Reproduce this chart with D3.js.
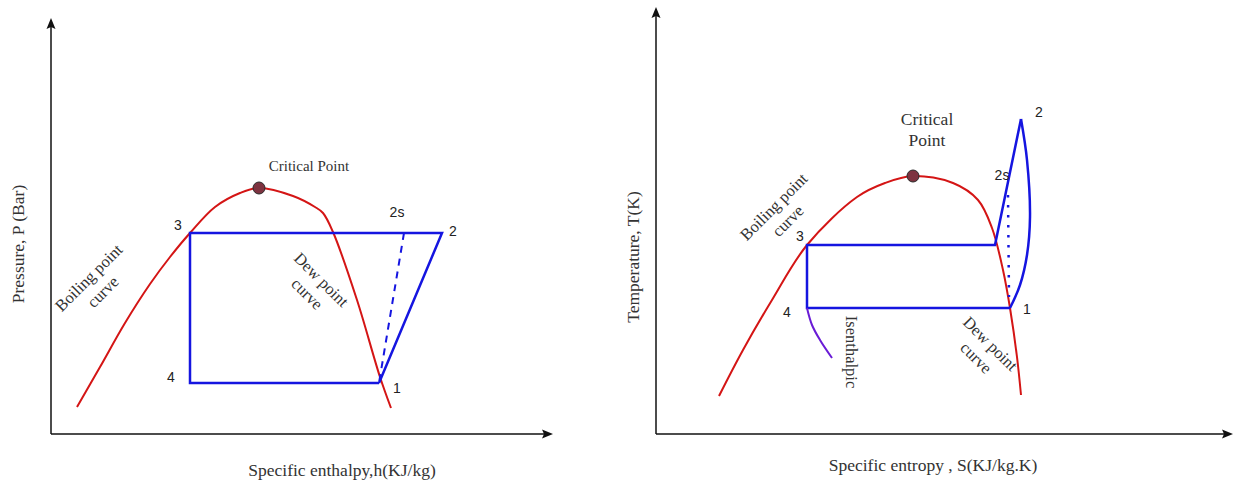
<!DOCTYPE html>
<html>
<head>
<meta charset="utf-8">
<script src="https://cdn.jsdelivr.net/npm/d3@7"></script>
<style>
  html, body { margin: 0; padding: 0; background: #fff; }
  svg { display: block; }
</style>
</head>
<body>
<div id="chart"></div>
<script>
// ---------- DATA (abstract data units) ----------
// Left panel: P-h diagram
const phSatCurveH = [5.2, 9.8, 14.8, 19.8, 23.8, 27.8, 32.8, 37.8, 41.6, 48.4, 52.8, 54.4, 56.4, 61.2, 65.8, 68.0];
const phSatCurveP = [6.75, 16.75, 27.75, 37.5, 44.25, 50.25, 56.75, 60.25, 61.5, 59.5, 56.75, 55.25, 50.5, 33.5, 14.25, 6.5];
const phCycleLabels = ["1", "4", "3", "2", "1"];
const phCycleH = [65.6, 27.8, 27.8, 78.2, 65.6];
const phCycleP = [12.75, 12.75, 50.25, 50.25, 12.75];
const phIsentropicH = [70.6, 65.6];   // 2s -> 1 (dashed)
const phIsentropicP = [50.25, 12.75];
const phCritical = [41.6, 61.5];

// Right panel: T-s diagram
const tsSatCurveS = [12.6, 17.4, 23.2, 30.2, 40.2, 45.8, 51.4, 59.4, 64.4, 67.2, 69.4, 70.8, 72.2, 73.0];
const tsSatCurveT = [9.5, 21.0, 33.5, 47.25, 59.25, 62.75, 64.5, 62.75, 58.5, 51.5, 41.0, 31.5, 19.25, 9.75];
const tsCycleS = [70.8, 30.2, 30.2, 67.8, 73.0];      // 1 -> 4 -> 3 -> sat vapour -> 2
const tsCycleT = [31.5, 31.5, 47.25, 47.25, 78.75];
const tsCompressS = [73.0, 74.2, 74.8, 74.2, 72.8, 70.8]; // 2 -> 1 (curved)
const tsCompressT = [78.75, 68.5, 54.25, 44.75, 37.25, 31.5];
const tsIsentropicS = [70.4, 70.6];                   // dotted 2s line
const tsIsentropicT = [59.75, 34.25];
const tsIsenthalpicS = [30.2, 31.2, 32.8, 35.2];
const tsIsenthalpicT = [31.5, 27.25, 23.5, 19.0];
const tsCritical = [51.4, 64.5];

// Axis titles
const phXTitle = "Specific enthalpy,h(KJ/kg)";
const phYTitle = "Pressure, P (Bar)";
const tsXTitle = "Specific entropy , S(KJ/kg.K)";
const tsYTitle = "Temperature, T(K)";

// ---------- DRAWING ----------
const W = 1235, H = 483;
const svg = d3.select("#chart").append("svg").attr("width", W).attr("height", H);

const RED = "#d41515", BLUE = "#1515e0", PURPLE = "#6a1cd6", AXIS = "#111";
const SERIF = "'Liberation Serif', 'Times New Roman', serif";
const SANS = "'Liberation Sans', Arial, sans-serif";
const TXT = "#333";

function zip(a, b) { return a.map((v, i) => [v, b[i]]); }

function drawAxes(g, x, y, xTip, yTip) {
  const x0 = x(0), y0 = y(0);
  g.append("line").attr("x1", x0).attr("y1", y0).attr("x2", x0).attr("y2", yTip + 6)
    .attr("stroke", AXIS).attr("stroke-width", 1.5);
  g.append("line").attr("x1", x0).attr("y1", y0).attr("x2", xTip - 6).attr("y2", y0)
    .attr("stroke", AXIS).attr("stroke-width", 1.5);
  g.append("path").attr("d", `M${x0},${yTip} L${x0 - 4.5},${yTip + 11} L${x0},${yTip + 9} L${x0 + 4.5},${yTip + 11} Z`)
    .attr("fill", AXIS);
  g.append("path").attr("d", `M${xTip},${y0} L${xTip - 11},${y0 - 4.5} L${xTip - 9},${y0} L${xTip - 11},${y0 + 4.5} Z`)
    .attr("fill", AXIS);
}

function twoLine(g, px, py, angle, lines, size, gap) {
  const t = g.append("g").attr("transform", `translate(${px},${py}) rotate(${angle})`);
  lines.forEach((s, i) => {
    t.append("text").attr("x", 0).attr("y", (i - (lines.length - 1) / 2) * gap)
      .attr("text-anchor", "middle").attr("dominant-baseline", "middle")
      .attr("font-family", SERIF).attr("font-size", size).attr("fill", TXT).text(s);
  });
}

function numLabel(g, px, py, s) {
  g.append("text").attr("x", px).attr("y", py).attr("text-anchor", "middle")
    .attr("dominant-baseline", "middle").attr("font-family", SANS).attr("font-size", 14)
    .attr("fill", "#222").text(s);
}

// ----- Left panel -----
{
  const x = d3.scaleLinear().domain([0, 100]).range([51, 551]);
  const y = d3.scaleLinear().domain([0, 100]).range([434, 34]);
  const g = svg.append("g");
  drawAxes(g, x, y, 553, 18);

  g.append("path").datum(zip(phSatCurveH, phSatCurveP))
    .attr("d", d3.line().x(d => x(d[0])).y(d => y(d[1])).curve(d3.curveCatmullRom.alpha(0.5)))
    .attr("fill", "none").attr("stroke", RED).attr("stroke-width", 2);

  g.append("path").datum(zip(phCycleH, phCycleP))
    .attr("d", d3.line().x(d => x(d[0])).y(d => y(d[1])))
    .attr("fill", "none").attr("stroke", BLUE).attr("stroke-width", 2.5).attr("stroke-linejoin", "miter");

  g.append("path").datum(zip(phIsentropicH, phIsentropicP))
    .attr("d", d3.line().x(d => x(d[0])).y(d => y(d[1])))
    .attr("fill", "none").attr("stroke", BLUE).attr("stroke-width", 2).attr("stroke-dasharray", "7,6");

  g.append("circle").attr("cx", x(phCritical[0])).attr("cy", y(phCritical[1])).attr("r", 6)
    .attr("fill", "#7d3340").attr("stroke", "#2a2a2a").attr("stroke-width", 1);

  g.append("text").attr("x", x(51.6)).attr("y", y(66.5)).attr("text-anchor", "middle")
    .attr("dominant-baseline", "middle").attr("font-family", SERIF).attr("font-size", 15)
    .attr("fill", TXT).text("Critical Point");

  numLabel(g, x(25.4), y(52), "3");
  numLabel(g, x(24), y(14), "4");
  numLabel(g, x(69.2), y(11.25), "1");
  numLabel(g, x(80.4), y(50.5), "2");
  numLabel(g, x(69.2), y(55.25), "2s");

  twoLine(g, x(9.2), y(37.0), -45, ["Boiling point", "curve"], 16.5, 20);
  twoLine(g, x(52.4), y(36.5), 45, ["Dew point", "curve"], 16.5, 20);

  g.append("text").attr("x", x(58.2)).attr("y", y(-9.5)).attr("text-anchor", "middle")
    .attr("dominant-baseline", "middle").attr("font-family", SERIF).attr("font-size", 17.5)
    .attr("fill", TXT).text(phXTitle);
  g.append("text").attr("transform", `translate(${x(-6.2)},${y(47.5)}) rotate(-90)`)
    .attr("text-anchor", "middle").attr("dominant-baseline", "middle")
    .attr("font-family", SERIF).attr("font-size", 17.5).attr("fill", TXT).text(phYTitle);
}

// ----- Right panel -----
{
  const x = d3.scaleLinear().domain([0, 100]).range([656, 1156]);
  const y = d3.scaleLinear().domain([0, 100]).range([434, 34]);
  const g = svg.append("g");
  drawAxes(g, x, y, 1233, 7);

  g.append("path").datum(zip(tsSatCurveS, tsSatCurveT))
    .attr("d", d3.line().x(d => x(d[0])).y(d => y(d[1])).curve(d3.curveCatmullRom.alpha(0.5)))
    .attr("fill", "none").attr("stroke", RED).attr("stroke-width", 2);

  g.append("path").datum(zip(tsCycleS, tsCycleT))
    .attr("d", d3.line().x(d => x(d[0])).y(d => y(d[1])))
    .attr("fill", "none").attr("stroke", BLUE).attr("stroke-width", 2.5);

  g.append("path").datum(zip(tsCompressS, tsCompressT))
    .attr("d", d3.line().x(d => x(d[0])).y(d => y(d[1])).curve(d3.curveCatmullRom.alpha(0.5)))
    .attr("fill", "none").attr("stroke", BLUE).attr("stroke-width", 2.5);

  g.append("path").datum(zip(tsIsentropicS, tsIsentropicT))
    .attr("d", d3.line().x(d => x(d[0])).y(d => y(d[1])))
    .attr("fill", "none").attr("stroke", BLUE).attr("stroke-width", 2.5).attr("stroke-dasharray", "2.5,7.5");

  g.append("path").datum(zip(tsIsenthalpicS, tsIsenthalpicT))
    .attr("d", d3.line().x(d => x(d[0])).y(d => y(d[1])).curve(d3.curveCatmullRom.alpha(0.5)))
    .attr("fill", "none").attr("stroke", PURPLE).attr("stroke-width", 2);

  g.append("circle").attr("cx", x(tsCritical[0])).attr("cy", y(tsCritical[1])).attr("r", 6)
    .attr("fill", "#7d3340").attr("stroke", "#2a2a2a").attr("stroke-width", 1);

  twoLine(g, x(54.2), y(75.6), 0, ["Critical", "Point"], 17.5, 21);

  numLabel(g, x(76.6), y(80.25), "2");
  numLabel(g, x(69.2), y(64.5), "2s");
  numLabel(g, x(74.2), y(31), "1");
  numLabel(g, x(28.8), y(49.25), "3");
  numLabel(g, x(26.2), y(30.25), "4");

  twoLine(g, x(25.2), y(54.75), -45, ["Boiling point", "curve"], 16.5, 20);
  twoLine(g, x(65.2), y(20.5), 45, ["Dew point", "curve"], 16.5, 20);
  twoLine(g, x(38.8), y(20.5), 90, ["Isenthalpic"], 16.5, 20);

  g.append("text").attr("x", x(55.4)).attr("y", y(-8.25)).attr("text-anchor", "middle")
    .attr("dominant-baseline", "middle").attr("font-family", SERIF).attr("font-size", 17.5)
    .attr("fill", TXT).text(tsXTitle);
  g.append("text").attr("transform", `translate(${x(-4.2)},${y(44.25)}) rotate(-90)`)
    .attr("text-anchor", "middle").attr("dominant-baseline", "middle")
    .attr("font-family", SERIF).attr("font-size", 17.5).attr("fill", TXT).text(tsYTitle);
}
</script>
</body>
</html>
